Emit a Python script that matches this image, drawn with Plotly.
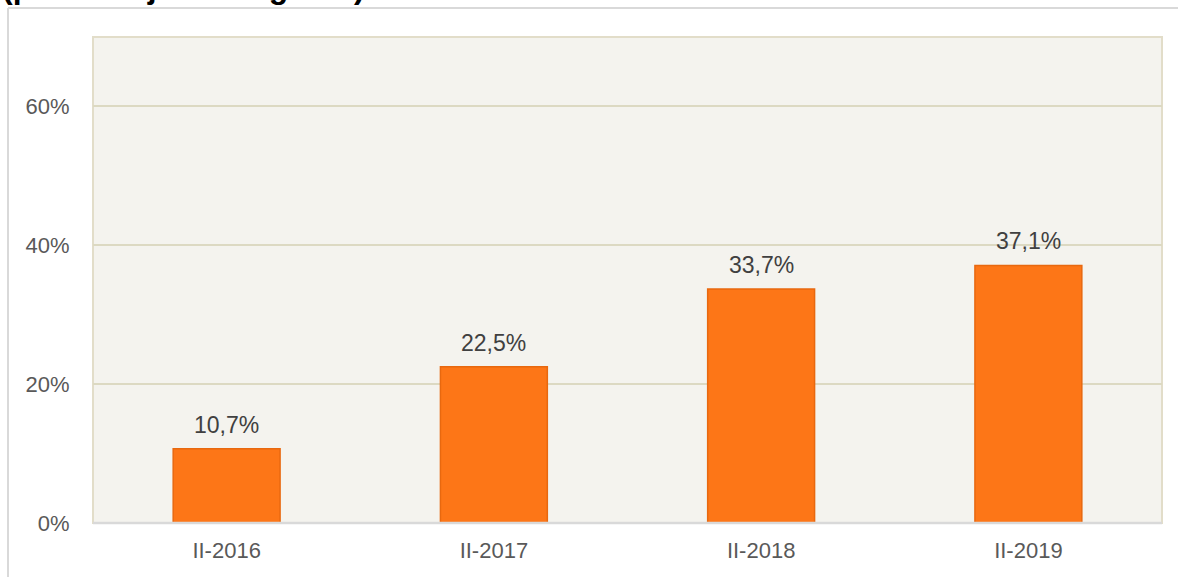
import plotly.graph_objects as go

categories = ["II-2016", "II-2017", "II-2018", "II-2019"]
values = [10.7, 22.5, 33.7, 37.1]
tick_vals = [0, 20, 40, 60]
tick_text = ["0%", "20%", "40%", "60%"]
title_text = "(porcentaje de hogares)"

labels = [f"{v:.1f}".replace(".", ",") + "%" for v in values]

W, H = 1178, 577
L, R, T, B = 93, 16, 37, 54
pw, ph = W - L - R, H - T - B
FONT = "Liberation Sans, Arial, sans-serif"

def px(x):
    return (x - L) / pw

def py(y):
    return (H - B - y) / ph

fig = go.Figure()
fig.add_trace(go.Bar(
    x=categories, y=values, width=0.4,
    marker=dict(color="#fd7617", line=dict(color="#e8680f", width=1.5)),
    hoverinfo="x+y",
))

value_annotations = [
    dict(x=c, y=v, xref="x", yref="y", text=t, showarrow=False,
         yanchor="bottom", yshift=9,
         font=dict(family=FONT, size=23, color="#404040"))
    for c, v, t in zip(categories, values, labels)
]

fig.update_layout(
    width=W, height=H,
    margin=dict(l=L, r=R, t=T, b=B),
    paper_bgcolor="white", plot_bgcolor="#f4f3ee",
    showlegend=False,
    font=dict(family=FONT),
    xaxis=dict(
        showgrid=False, showline=False, ticks="outside", ticklen=8,
        tickcolor="rgba(0,0,0,0)",
        tickfont=dict(size=22, color="#595959"),
    ),
    yaxis=dict(
        range=[0, 70], tickvals=tick_vals, ticktext=tick_text,
        showgrid=True, gridcolor="#dcd9c2", gridwidth=1.5,
        zeroline=False, showline=False,
        ticks="outside", ticklen=18, tickcolor="rgba(0,0,0,0)",
        tickfont=dict(size=22, color="#595959"),
    ),
    shapes=[
        dict(type="rect", xref="paper", yref="paper", x0=0, x1=1, y0=0, y1=1,
             line=dict(color="#e2ddc9", width=2), layer="below"),
        dict(type="line", xref="paper", yref="paper", x0=0, x1=1, y0=0, y1=0,
             line=dict(color="#d9d9d9", width=2.5)),
        dict(type="line", xref="paper", yref="paper", x0=px(8), x1=px(8), y0=py(577), y1=py(8),
             line=dict(color="#d9d9d9", width=2)),
        dict(type="line", xref="paper", yref="paper", x0=px(8), x1=px(1178), y0=py(8), y1=py(8),
             line=dict(color="#d9d9d9", width=2)),
    ],
    annotations=value_annotations + [
        dict(text="<b>" + title_text + "</b>", xref="paper", yref="paper",
             x=px(0), y=py(7), xanchor="left", yanchor="bottom", showarrow=False,
             font=dict(family=FONT, size=32, color="black")),
    ],
)

fig.write_html("out.html", config={"displayModeBar": False},
               post_script="document.body.style.margin='0';")
